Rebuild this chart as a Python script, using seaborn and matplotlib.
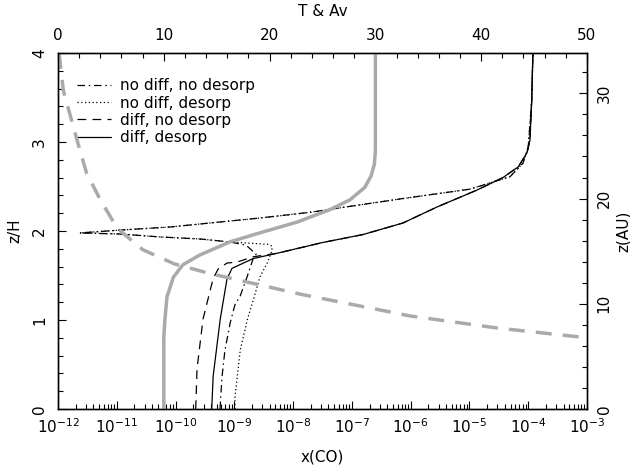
import numpy as np
import pandas as pd
import seaborn as sns
import matplotlib
matplotlib.use('Agg')
import matplotlib.pyplot as plt

# profili: z/H e log10 x(CO)
z_nd_nds = [0.0, 0.36, 0.66, 0.97, 1.17, 1.27, 1.49, 1.69, 1.74, 1.84, 1.876, 1.91, 1.933, 1.966, 1.978,
            2.01, 2.045, 2.146, 2.21, 2.36, 2.47, 2.61, 2.76, 2.94, 3.47, 4.0]
lx_nd_nds = [-9.244, -9.21, -9.16, -9.07, -8.99, -8.90, -8.78, -8.68, -8.63, -8.80, -9.07, -9.584, -10.265, -10.945, -11.63,
             -10.945, -10.09, -8.56, -7.71, -6.18, -4.99, -4.31, -4.09, -4.00, -3.94, -3.92]

z_nd_ds = [0.0, 0.13, 0.66, 1.0, 1.22, 1.49, 1.64, 1.78, 1.83, 1.85, 1.876, 1.91, 1.933, 1.966, 1.978,
           2.01, 2.045, 2.146, 2.21, 2.36, 2.47, 2.61, 2.76, 2.94, 3.47, 4.0]
lx_nd_ds = [-8.99, -8.99, -8.90, -8.78, -8.68, -8.56, -8.44, -8.36, -8.36, -8.43, -9.07, -9.584, -10.265, -10.945, -11.63,
            -10.945, -10.09, -8.56, -7.71, -6.18, -4.99, -4.31, -4.09, -4.00, -3.94, -3.92]

z_d_nds = [0.0, 0.45, 1.01, 1.46, 1.57, 1.64, 1.65, 1.71, 1.75, 1.87, 1.96, 2.09, 2.27, 2.46, 2.60, 2.72, 2.88, 3.02, 3.47, 4.0]
lx_d_nds = [-9.657, -9.635, -9.533, -9.363, -9.278, -9.125, -8.955, -8.68, -8.27, -7.50, -6.81, -6.13, -5.55, -4.87, -4.43,
            -4.17, -4.02, -3.97, -3.94, -3.92]

z_d_ds = [0.0, 0.37, 1.01, 1.46, 1.58, 1.69, 1.75, 1.87, 1.96, 2.09, 2.27, 2.46, 2.60, 2.72, 2.88, 3.02, 3.47, 4.0]
lx_d_ds = [-9.385, -9.36, -9.24, -9.125, -9.04, -8.68, -8.27, -7.50, -6.81, -6.13, -5.55, -4.87, -4.43, -4.17, -4.02,
           -3.97, -3.94, -3.92]

# temperatura e estinzione (asse superiore)
z_T = [0.0, 0.8, 1.0, 1.26, 1.48, 1.62, 1.73, 1.88, 1.99, 2.10, 2.24, 2.35, 2.49, 2.62, 2.75, 2.9, 4.0]
T_vals = [10.0, 10.0, 10.1, 10.3, 10.9, 11.8, 13.4, 16.3, 19.4, 22.6, 25.7, 27.6, 29.0, 29.6, 29.9, 30.0, 30.0]

z_Av = [4.0, 3.58, 3.02, 2.65, 2.35, 2.03, 1.79, 1.63, 1.53, 1.45, 1.29, 1.045, 0.91, 0.80]
Av_vals = [0.1, 0.5, 1.8, 2.7, 4.0, 5.6, 8.0, 11.0, 14.1, 17.0, 22.9, 33.3, 41.5, 50.0]

labels = ['no diff, no desorp', 'no diff, desorp', 'diff, no desorp', 'diff, desorp']
styles = [(0, (6, 3, 1.2, 3)), (0, (1, 2)), (0, (7, 5)), '-']

# tick degli assi
xco_decades = list(range(-12, -2))
zh_ticks = [0, 1, 2, 3, 4]
tav_ticks = [0, 10, 20, 30, 40, 50]
au_ticks = [0, 10, 20, 30]

sns.set_style('ticks', {'xtick.direction': 'in', 'ytick.direction': 'in',
                        'xtick.color': 'black', 'ytick.color': 'black',
                        'text.color': 'black', 'axes.labelcolor': 'black',
                        'axes.edgecolor': 'black'})
plt.rcParams['font.family'] = ['DejaVu Sans']
plt.rcParams['font.size'] = 11

fig, ax = plt.subplots(figsize=(6.3, 4.76), dpi=100)
fig.subplots_adjust(left=0.0921, right=0.9317, bottom=0.1408, top=0.8887)

curves = [(z_nd_nds, lx_nd_nds), (z_nd_ds, lx_nd_ds), (z_d_nds, lx_d_nds), (z_d_ds, lx_d_ds)]
for (zz, lx), lab, ls in zip(curves, labels, styles):
    df = pd.DataFrame({'x': 10 ** np.array(lx), 'z': zz})
    sns.lineplot(data=df, x='x', y='z', sort=False, estimator=None, color='black',
                 linewidth=0.9, linestyle=ls, label=lab, ax=ax)

ax.set_xscale('log')
ax.set_xlim(1e-12, 1e-3)
ax.set_ylim(0, 4)
ax.set_xticks([10.0 ** k for k in xco_decades])
ax.set_xticklabels([r'$10^{%d}$' % k for k in xco_decades])
ax.set_xticks([m * 10.0 ** k for k in xco_decades[:-1] for m in range(2, 10)], minor=True)
ax.set_xticklabels([], minor=True)
ax.set_yticks(zh_ticks)
ax.set_yticks(np.arange(0, 4.01, 0.2), minor=True)
ax.tick_params(which='major', length=5.8, width=0.8, top=False, right=False)
ax.tick_params(which='minor', length=3.5, width=0.8, top=False, right=False)
ax.tick_params(axis='x', pad=6)
ax.tick_params(axis='y', pad=8)
for t in ax.get_yticklabels():
    t.set_rotation(90)
    t.set_va('center')
ax.set_xlabel('x(CO)')
ax.set_ylabel('z/H')
ax.xaxis.set_label_coords(0.5, -0.115)
ax.yaxis.set_label_coords(-0.068, 0.5)

ax.legend(loc='upper left', bbox_to_anchor=(0.036, 0.929), frameon=False,
          borderaxespad=0, borderpad=0, handlelength=2.2, handletextpad=0.6,
          labelspacing=0.15, fontsize=11)

# asse superiore: T & Av
ax_top = ax.twiny()
sns.lineplot(x=T_vals, y=z_T, sort=False, estimator=None, color='#aaaaaa', linewidth=2.5, ax=ax_top)
sns.lineplot(x=Av_vals, y=z_Av, sort=False, estimator=None, color='#aaaaaa', linewidth=2.5,
             linestyle=(0, (4.6, 3.2)), ax=ax_top)
ax_top.set_xlim(0, 50)
ax_top.set_ylim(0, 4)
ax_top.set_xticks(tav_ticks)
ax_top.set_xticks(np.arange(0, 50.1, 2), minor=True)
ax_top.tick_params(which='major', length=5.8, width=0.8, pad=7)
ax_top.tick_params(which='minor', length=3.5, width=0.8)
ax_top.set_xlabel('T & Av')
ax_top.xaxis.set_label_coords(0.5, 1.105)

# asse destro: z(AU)
ax_r = ax.twinx()
ax_r.set_ylim(0, 33.84)
ax_r.set_yticks(au_ticks)
ax_r.set_yticks(np.arange(0, 33.8, 2), minor=True)
ax_r.tick_params(which='major', length=5.8, width=0.8, pad=7)
ax_r.tick_params(which='minor', length=3.5, width=0.8)
for t in ax_r.get_yticklabels():
    t.set_rotation(90)
    t.set_va('center')
ax_r.set_ylabel('z(AU)')
ax_r.yaxis.set_label_coords(1.055, 0.5)

for a in (ax, ax_top, ax_r):
    for s in a.spines.values():
        s.set_linewidth(0.9)
        s.set_color('black')

fig.savefig('out.png', dpi=100)
